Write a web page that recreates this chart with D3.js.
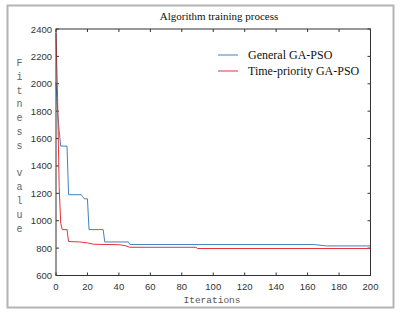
<!DOCTYPE html>
<html>
<head>
<meta charset="utf-8">
<script src="https://cdn.jsdelivr.net/npm/d3@7"></script>
<style>
  body { margin: 0; background: #fff; }
  svg { display: block; }
</style>
</head>
<body>
<script>
// iteration / fitness pairs
const generalIter = [0, 1, 2, 3, 7, 8, 16, 17, 18, 20, 21, 30, 31, 46, 47, 164, 172, 200];
const generalVal  = [2010, 1800, 1660, 1545, 1545, 1190, 1190, 1175, 1160, 1160, 935, 935, 845, 845, 826, 826, 816, 816];
const priorityIter = [0, 1, 2, 3, 4, 7, 8, 15, 20, 24, 40, 44, 47, 89, 90, 200];
const priorityVal  = [2370, 1900, 1250, 980, 935, 935, 848, 845, 838, 828, 825, 818, 806, 806, 797, 797];
const xTicks = [0, 20, 40, 60, 80, 100, 120, 140, 160, 180, 200];
const yTicks = [600, 800, 1000, 1200, 1400, 1600, 1800, 2000, 2200, 2400];
const seriesNames = ['General GA-PSO', 'Time-priority GA-PSO'];
const yLabel = 'Fitness value';

const W = 404, H = 314;
const svg = d3.select('body').append('svg').attr('width', W).attr('height', H);

// outer frame
svg.append('rect').attr('x', 7.5).attr('y', 5.5).attr('width', 386).attr('height', 302)
  .attr('fill', '#fff').attr('stroke', '#b4b4b4').attr('stroke-width', 2);

const pLeft = 56, pRight = 370.5, pTop = 29, pBottom = 275.5;
const x = d3.scaleLinear().domain([0, 200]).range([pLeft, pRight]);
const y = d3.scaleLinear().domain([600, 2400]).range([pBottom, pTop]);

// inward ticks on all four sides
const tick = 3;
const axes = svg.append('g').attr('stroke', '#333').attr('stroke-width', 1);
xTicks.forEach(t => {
  axes.append('line').attr('x1', x(t)).attr('x2', x(t)).attr('y1', pBottom).attr('y2', pBottom - tick);
  axes.append('line').attr('x1', x(t)).attr('x2', x(t)).attr('y1', pTop).attr('y2', pTop + tick);
});
yTicks.forEach(t => {
  axes.append('line').attr('x1', pLeft).attr('x2', pLeft + tick).attr('y1', y(t)).attr('y2', y(t));
  axes.append('line').attr('x1', pRight).attr('x2', pRight - tick).attr('y1', y(t)).attr('y2', y(t));
});

// lines
const line = d3.line().x(d => x(d[0])).y(d => y(d[1]));
const general = generalIter.map((d, i) => [d, generalVal[i]]);
const priority = priorityIter.map((d, i) => [d, priorityVal[i]]);
svg.append('path').datum(general).attr('d', line)
  .attr('fill', 'none').attr('stroke', '#3f83be').attr('stroke-width', 1);
svg.append('path').datum(priority).attr('d', line)
  .attr('fill', 'none').attr('stroke', '#e8303c').attr('stroke-width', 1);

// box
svg.append('rect').attr('x', pLeft).attr('y', pTop).attr('width', pRight - pLeft).attr('height', pBottom - pTop)
  .attr('fill', 'none').attr('stroke', '#333').attr('stroke-width', 1);

// tick labels
svg.append('g').selectAll('text').data(xTicks).join('text')
  .attr('x', d => x(d)).attr('y', pBottom + 14)
  .attr('text-anchor', 'middle').attr('font-family', 'Liberation Sans, Arial, sans-serif')
  .attr('font-size', 9.5).attr('fill', '#333').text(d => d);
svg.append('g').selectAll('text').data(yTicks).join('text')
  .attr('x', pLeft - 4).attr('y', d => y(d) + 3.5)
  .attr('text-anchor', 'end').attr('font-family', 'Liberation Sans, Arial, sans-serif')
  .attr('font-size', 9.5).attr('fill', '#333').text(d => d);

// title
svg.append('text').attr('x', 219).attr('y', 20).attr('text-anchor', 'middle')
  .attr('font-family', 'Liberation Serif, Times New Roman, serif').attr('font-size', 11)
  .attr('fill', '#111').text('Algorithm training process');

// x label
svg.append('text').attr('x', 212).attr('y', 303).attr('text-anchor', 'middle')
  .attr('font-family', 'Liberation Mono, monospace').attr('font-size', 9.5)
  .attr('fill', '#555').text('Iterations');

// y label, letters stacked
svg.append('g').selectAll('text').data(yLabel.split('')).join('text')
  .attr('x', 19.5).attr('y', (d, i) => 66 + i * 13.8)
  .attr('text-anchor', 'middle').attr('font-family', 'Liberation Mono, monospace')
  .attr('font-size', 10).attr('fill', '#666').text(d => d);

// legend
const legendColors = ['#3f83be', '#e8303c'];
const lg = svg.append('g');
seriesNames.forEach((name, i) => {
  const ly = 55 + i * 16;
  lg.append('line').attr('x1', 218).attr('x2', 238).attr('y1', ly).attr('y2', ly)
    .attr('stroke', legendColors[i]).attr('stroke-width', 1);
  lg.append('text').attr('x', 248).attr('y', ly + 4)
    .attr('font-family', 'Liberation Serif, Times New Roman, serif').attr('font-size', 12)
    .attr('fill', '#111').text(name);
});
</script>
</body>
</html>
